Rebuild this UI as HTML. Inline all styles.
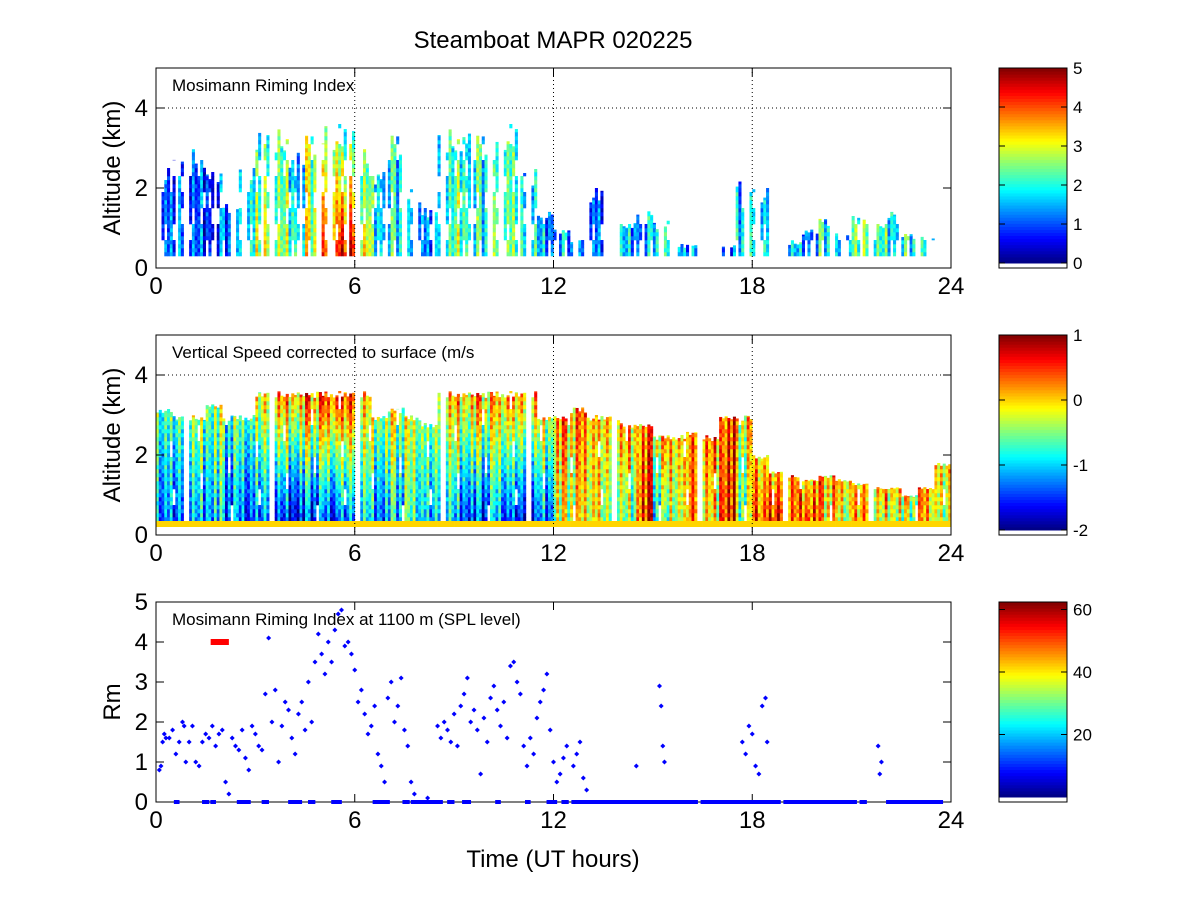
<!DOCTYPE html>
<html><head><meta charset="utf-8"><style>
body{margin:0;background:#fff;}
svg{display:block;font-family:"Liberation Sans",Arial,sans-serif;}
</style></head><body>
<svg id="fig" width="1201" height="901" viewBox="0 0 1201 901">
<rect width="1201" height="901" fill="#fff"/>
<text x="553" y="48" font-size="24" text-anchor="middle">Steamboat MAPR 020225</text>
<g id="p1"></g>
<g id="p2"></g>
<g id="p3"></g>
<text x="553" y="867" font-size="24" text-anchor="middle">Time (UT hours)</text>
</svg>
<script>
// ---- data (half-hour columns, 0..24 UT) ----
const xTicks = [0, 6, 12, 18, 24];
const altTicks = [0, 2, 4];
const rmTicks = [0, 1, 2, 3, 4, 5];
const rimTop = [2.5,2.8,3.0,2.5,1.7,2.5,3.5,3.5,3.0,3.5,3.6,3.6,3.0,2.5,3.5,2.0,1.5,3.5,3.5,3.5,3.2,3.6,2.5,1.5,1.0,0.8,2.0,0,1.2,1.5,1.2,0.6,0.6,0,0.6,2.3,2.0,0,0.7,1.0,1.3,1.0,1.3,1.2,1.5,0.9,0.9,0];
const rimLow = [1.2,1.3,1.0,1.0,1.2,2.0,3.0,2.5,2.5,3.0,4.0,4.5,3.0,2.0,2.0,1.5,1.2,2.0,2.5,2.0,2.5,2.5,2.0,1.5,1.5,1.2,1.3,0,1.5,1.5,2.0,1.5,1.5,0,1.0,2.0,2.0,0,1.5,1.5,2.0,1.5,2.5,2.0,2.0,2.0,2.0,0];
const rimHigh = [1.0,1.0,0.8,1.0,1.2,1.8,2.0,2.0,1.5,2.5,2.5,2.0,2.0,1.8,1.8,1.5,1.5,1.8,2.0,2.0,2.0,2.2,1.5,1.2,1.5,1.2,1.0,0,1.5,1.5,2.0,1.5,1.5,0,1.0,1.5,1.5,0,1.5,1.5,2.0,1.5,2.5,2.0,2.0,2.0,2.0,0];
const spdTop = [3.2,3.0,3.0,3.3,3.0,3.0,3.6,3.6,3.6,3.6,3.6,3.6,3.6,3.0,3.2,3.0,2.8,3.6,3.6,3.6,3.6,3.6,3.6,3.0,3.0,3.2,3.0,3.0,2.8,2.8,2.5,2.5,2.6,2.5,3.0,3.0,2.0,1.6,1.5,1.4,1.5,1.4,1.3,1.2,1.2,1.0,1.2,1.8];
const spdLow = [-1.2,-1.3,-1.2,-1.0,-1.3,-1.4,-1.2,-1.6,-1.6,-1.5,-1.5,-1.2,-1.0,-1.2,-1.0,-0.8,-1.0,-1.0,-1.3,-1.5,-1.2,-1.4,-1.7,-1.3,-0.3,-0.2,-0.1,-0.5,-0.6,0.5,-0.8,-0.3,0.3,-0.2,0.6,-0.5,0.4,0.6,0.2,0.5,0.0,-0.3,0.2,-0.4,-0.2,-0.5,0.0,-0.3];
const spdHigh = [-0.6,-0.6,-0.5,-0.4,-0.6,-0.6,0.0,0.2,0.2,0.4,0.5,0.6,0.0,-0.3,-0.2,-0.3,-0.4,0.0,0.1,0.2,0.1,0.3,0.2,-0.2,0.2,0.2,0.1,0.1,0.1,0.2,0.1,0.1,0.3,0.2,0.4,0.0,0.0,0.1,0.2,0.1,0.2,0.1,0.1,0.0,0.1,0.0,0.1,0.0];
const surfaceBandValue = 0.0;
const rmTimes = [0.1,0.15,0.2,0.25,0.3,0.4,0.5,0.6,0.7,0.8,0.85,0.9,1.0,1.1,1.2,1.3,1.4,1.5,1.6,1.7,1.8,1.9,2.0,2.1,2.2,2.3,2.4,2.5,2.6,2.7,2.8,2.9,3.0,3.1,3.2,3.3,3.4,3.5,3.6,3.7,3.8,3.9,4.0,4.1,4.2,4.3,4.4,4.5,4.6,4.7,4.8,4.9,5.0,5.1,5.2,5.3,5.4,5.5,5.6,5.7,5.8,5.9,6.0,6.1,6.2,6.3,6.4,6.5,6.6,6.7,6.8,6.9,7.0,7.1,7.2,7.3,7.4,7.5,7.6,7.7,7.8,8.2,8.5,8.6,8.7,8.8,8.9,9.0,9.1,9.2,9.3,9.4,9.5,9.6,9.7,9.8,9.9,10.0,10.1,10.2,10.3,10.4,10.5,10.6,10.7,10.8,10.9,11.0,11.1,11.2,11.3,11.4,11.5,11.6,11.7,11.8,11.9,12.0,12.1,12.2,12.3,12.4,12.6,12.7,12.8,12.9,13.0,14.5,15.2,15.25,15.3,15.35,17.7,17.8,17.9,18.0,18.1,18.2,18.3,18.4,18.45,21.8,21.85,21.9];
const rmValues = [0.8,0.9,1.5,1.7,1.6,1.6,1.8,1.2,1.5,2.0,1.9,1.0,1.5,1.9,1.0,0.9,1.5,1.7,1.6,1.9,1.4,1.7,1.8,0.5,0.2,1.6,1.4,1.3,1.8,1.1,0.8,1.9,1.7,1.4,1.3,2.7,4.1,2.0,2.8,1.0,1.9,2.5,2.3,1.6,1.2,2.2,2.5,1.8,3.0,2.0,3.5,4.2,3.7,3.2,4.0,3.5,4.3,4.7,4.8,3.9,4.0,3.7,3.3,2.5,2.8,2.2,1.7,1.9,2.4,1.2,0.9,0.5,2.6,3.0,2.0,2.4,3.1,1.8,1.4,0.5,0.2,0.1,1.9,1.6,2.0,1.8,1.5,2.2,1.4,2.4,2.7,3.1,2.0,2.3,1.8,0.7,2.1,1.5,2.6,2.9,2.3,1.9,2.5,1.6,3.4,3.5,3.0,2.7,1.4,0.9,1.6,1.2,2.1,2.5,2.8,3.2,1.8,1.0,0.5,0.7,1.1,1.4,0.9,1.2,1.5,0.6,0.3,0.9,2.9,2.4,1.4,1.0,1.5,1.2,1.9,1.7,0.9,0.7,2.4,2.6,1.5,1.4,0.7,1.0];
const zeroRuns = [[0.6,0.65],[1.45,1.55],[1.7,1.75],[2.5,2.8],[3.25,3.35],[4.05,4.35],[4.65,4.75],[5.35,5.55],[6.6,7.0],[7.5,7.6],[7.75,8.6],[8.85,8.95],[9.3,9.45],[10.3,10.35],[11.2,11.25],[11.85,12.05],[12.3,12.4],[12.6,16.3],[16.5,18.8],[19.0,21.1],[21.3,21.4],[22.1,23.7]];
const redMarker = [1.65, 2.2, 4.0];

// rendering texture pattern (visual speckle, not data)
const TEX = [0.7,-0.4,0.1,-0.9,0.5,-0.1,0.9,-0.6,0.3,-0.3,0.8,-0.8,0.0,0.6,-0.5,0.2,-0.7,0.4,-0.2,1.0,-1.0,0.35,-0.45,0.65,-0.15,0.55,-0.85,0.15,-0.35,0.75,-0.65];

const NS = "http://www.w3.org/2000/svg";
const X0 = 156, X1 = 951;
function mk(tag, attrs, parent){const e=document.createElementNS(NS,tag);for(const k in attrs)e.setAttribute(k,attrs[k]);parent.appendChild(e);return e;}
function jet(t){t=Math.max(0,Math.min(1,t));const r=Math.max(0,Math.min(1,1.5-Math.abs(4*t-3))),g=Math.max(0,Math.min(1,1.5-Math.abs(4*t-2))),b=Math.max(0,Math.min(1,1.5-Math.abs(4*t-1)));return `rgb(${Math.round(r*255)},${Math.round(g*255)},${Math.round(b*255)})`;}
const xs = t => X0 + t/24*(X1-X0);

function axes(g, top, ymax, yticks, ylabel, grid, note){
  const bot = top+200, ys = v => bot - v/ymax*200;
  if(grid){
    xTicks.slice(1,4).forEach(t=>{const l=mk('line',{x1:xs(t),x2:xs(t),y1:top,y2:bot,stroke:'#000','stroke-dasharray':'1,3','stroke-width':1},g);});
    const l=mk('line',{x1:X0,x2:X1,y1:ys(4),y2:ys(4),stroke:'#000','stroke-dasharray':'1,3','stroke-width':1},g);
  }
  const fr=mk('rect',{x:X0,y:top,width:X1-X0,height:200,fill:'none',stroke:'#000','stroke-width':1},g);
  
  xTicks.forEach(t=>{
    mk('line',{x1:xs(t),x2:xs(t),y1:bot,y2:bot-8,stroke:'#000'},g);
    mk('line',{x1:xs(t),x2:xs(t),y1:top,y2:top+8,stroke:'#000'},g);
    const tx=mk('text',{x:xs(t),y:bot+26,'font-size':24,'text-anchor':'middle'},g);tx.textContent=t;
    
  });
  yticks.forEach(v=>{
    mk('line',{x1:X0,x2:X0+8,y1:ys(v),y2:ys(v),stroke:'#000'},g);
    mk('line',{x1:X1,x2:X1-8,y1:ys(v),y2:ys(v),stroke:'#000'},g);
    const tx=mk('text',{x:X0-8,y:ys(v)+8,'font-size':24,'text-anchor':'end'},g);tx.textContent=v;
    
  });
  const yl=mk('text',{x:0,y:0,'font-size':24,'text-anchor':'middle',transform:`translate(120,${top+100}) rotate(-90)`},g);yl.textContent=ylabel;
  
  const nt=mk('text',{x:172,y:top+23,'font-size':17},g);nt.textContent=note;
  
  return ys;
}
function colorbar(g, top, lo, hi, ticks){
  const n=64,h=195;
  for(let i=0;i<n;i++){mk('rect',{x:999,y:top+h-(i+1)*h/n,width:68,height:h/n+0.5,fill:jet((i+0.5)/n)},g);}
  const fr=mk('rect',{x:999,y:top,width:68,height:200,fill:'none',stroke:'#000'},g);
  
  ticks.forEach(v=>{const y=top+h-(v-lo)/(hi-lo)*h;
    mk('line',{x1:999,x2:1005,y1:y,y2:y,stroke:'#000'},g);mk('line',{x1:1067,x2:1061,y1:y,y2:y,stroke:'#000'},g);
    const tx=mk('text',{x:1073,y:y+6,'font-size':17},g);tx.textContent=v;
    });
}
function heat(g, ys, tops, lows, highs, lo, hi, base, spread, sparse){
  const dh=0.1, sub=6, w=(xs(0.5)-xs(0))/sub, L=TEX.length;
  tops.forEach((tp,i)=>{ if(tp<=0) return;
    for(let s=0;s<sub;s++){
      const c=i*sub+s;
      const colTop = tp - (TEX[(c*5)%L]+1)*0.25*tp*sparse;
      if(sparse>0 && TEX[(c*13)%L] > 1-sparse*1.2) continue;
      let r=0;
      for(let h=base;h<colTop;h+=dh,r++){
        const t=0.75*TEX[(c*7)%L] + 0.35*TEX[(c+r*5)%L];
        if(sparse>0 && TEX[(c*3+(r>>2))%L] > 1-sparse*0.9) continue;
        const f=(h-base)/Math.max(0.01,tp-base), v=lows[i]+(highs[i]-lows[i])*f + t*spread;
        const y1=ys(Math.min(h+dh,colTop));
        const cell=mk('rect',{x:xs(i*0.5)+s*w,y:y1,width:w+0.3,height:ys(h)-y1+0.3,fill:jet((v-lo)/(hi-lo))},g);
        
        
      }
    }
  });
}
// Panel 1
const g1=document.getElementById('p1');
const hg1=mk('g',{},g1);
const ys1=axes(g1,68,5,altTicks,'Altitude (km)',true,'Mosimann Riming Index');
heat(hg1,ys1,rimTop,rimLow,rimHigh,0,5,0.3,1.0,0.4);
colorbar(g1,68,0,5,[0,1,2,3,4,5]);
// Panel 2
const g2=document.getElementById('p2');
const hg2=mk('g',{},g2);
const ys2=axes(g2,335,5,altTicks,'Altitude (km)',true,'Vertical Speed corrected to surface (m/s');
heat(hg2,ys2,spdTop,spdLow,spdHigh,-2,1,0.35,0.7,0.1);
spdTop.forEach((tp,i)=>{ if(tp<=0) return;
  const r=mk('rect',{x:xs(i*0.5),y:ys2(0.35),width:xs(0.5)-xs(0)+0.3,height:ys2(0.2)-ys2(0.35),fill:jet((surfaceBandValue+2)/3)},hg2);
  
  
});
colorbar(g2,335,-2,1,[-2,-1,0,1]);
// Panel 3
const g3=document.getElementById('p3');
const ys3=axes(g3,602,5,rmTicks,'Rm',false,'Mosimann Riming Index at 1100 m (SPL level)');
zeroRuns.forEach(r=>{const e=mk('rect',{x:xs(r[0])-2,y:ys3(0)-2,width:xs(r[1])-xs(r[0])+4,height:4,fill:'#00f'},g3);
  
  });
rmTimes.forEach((t,i)=>{const x=xs(t),y=ys3(rmValues[i]);
  const p=mk('polygon',{points:`${x},${y-2.5} ${x+2.5},${y} ${x},${y+2.5} ${x-2.5},${y}`,fill:'#00f'},g3);
  
  });
const rm=mk('rect',{x:xs(redMarker[0]),y:ys3(redMarker[2])-3,width:xs(redMarker[1])-xs(redMarker[0]),height:6,fill:'#f00'},g3);


colorbar(g3,602,0,62.4,[20,40,60]);
</script>
</body></html>
